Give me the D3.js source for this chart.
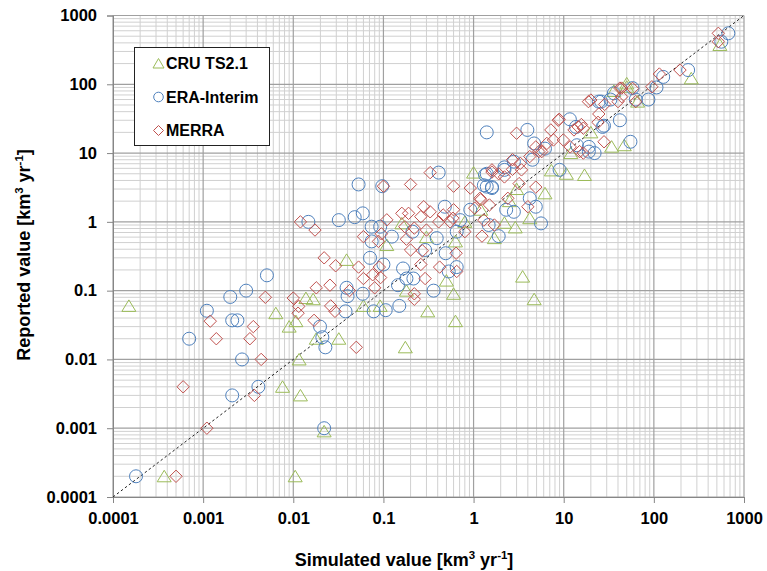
<!DOCTYPE html>
<html>
<head>
<meta charset="utf-8">
<script src="https://cdn.jsdelivr.net/npm/d3@7"></script>
<style>
  body { margin: 0; background: #fff; }
  text { font-family: "Liberation Sans", Arial, sans-serif; font-weight: bold; }
</style>
</head>
<body>
<svg width="767" height="571"></svg>
<script>
// [simulated, reported] in km3/yr
const cruPoints = [
  [0.00015, 0.06], [0.00037, 0.0002], [0.0105, 0.0002], [0.022, 0.0009], [0.0076, 0.004],
  [0.012, 0.003], [0.0116, 0.01], [0.018, 0.02], [0.032, 0.02], [0.0064, 0.047],
  [0.009, 0.03], [0.0107, 0.036], [0.0138, 0.078], [0.0166, 0.075], [0.039, 0.28],
  [0.175, 0.015], [0.31, 0.05], [0.63, 0.036], [0.6, 0.09], [0.18, 0.1],
  [0.06, 0.06], [0.092, 0.06], [0.5, 0.14], [0.109, 0.46], [0.16, 0.95], [0.63, 0.52],
  [1.7, 0.58], [1.0, 5.2], [3.5, 0.16], [4.7, 0.075], [2.9, 0.83], [4.2, 1.13],
  [2.2, 0.97], [6.2, 2.6], [10.7, 5], [17, 4.8], [7.3, 5.6], [34, 12.4], [47, 13],
  [50, 92], [66, 56], [50, 103], [36, 80], [260, 122], [540, 373],
  [0.3, 0.6], [0.8, 1.0], [1.2, 1.5], [2.5, 2.0], [3, 3], [12, 10], [20, 20]
];
const eraPoints = [
  [0.00018, 0.0002], [0.022, 0.001], [0.0021, 0.003], [0.0041, 0.004], [0.0027, 0.01],
  [0.0007, 0.02], [0.0198, 0.03], [0.021, 0.021], [0.0227, 0.015], [0.0051, 0.167],
  [0.003, 0.1], [0.002, 0.081], [0.0011, 0.051], [0.0021, 0.037], [0.0024, 0.037],
  [0.0147, 1.0], [0.032, 1.06], [0.053, 3.5], [0.097, 3.3], [0.41, 5.2], [1.34, 4.8],
  [1.4, 3.25], [0.048, 1.17], [0.059, 1.33], [0.074, 0.85], [0.092, 0.85], [0.074, 0.52],
  [0.124, 0.61], [0.21, 0.72], [0.39, 0.58], [0.48, 1.66], [0.71, 1.06], [0.65, 0.72],
  [0.92, 1.5], [1.47, 0.9], [0.071, 0.3], [0.1, 0.24], [0.165, 0.21], [0.18, 0.15],
  [0.215, 0.15], [0.145, 0.12], [0.29, 0.39], [0.49, 0.35], [0.65, 0.22], [0.53, 0.19],
  [0.36, 0.1], [0.039, 0.11], [0.04, 0.083], [0.059, 0.09], [0.038, 0.05], [0.078, 0.05],
  [0.106, 0.052], [0.15, 0.06], [1.4, 20], [3.95, 21.7], [11.7, 31], [24.5, 56], [33, 60],
  [63, 60], [27, 24], [42, 30], [55, 14.6], [19, 12.3], [22, 10], [9, 5.7], [13.7, 24],
  [6.2, 11.6], [14, 13], [4.7, 13.8], [4.5, 8], [2.8, 7.5], [2.2, 6.2], [1.4, 5],
  [1.3, 3.4], [1.6, 3.2], [4.2, 2.2], [2.8, 1.4], [2.3, 1.5], [4.9, 1.66], [5.6, 0.95],
  [1.9, 0.62], [28, 25], [670, 551], [560, 416], [240, 161], [127, 128], [107, 90],
  [87, 60], [58, 88], [1.6, 3.1], [2.2, 5.7], [26, 56], [36, 74], [19, 10.5]
];
const merraPoints = [
  [0.0005, 0.0002], [0.0011, 0.001], [0.0037, 0.003], [0.0006, 0.004], [0.0044, 0.01],
  [0.0014, 0.02], [0.0033, 0.02], [0.0036, 0.03], [0.0012, 0.036], [0.0049, 0.08],
  [0.012, 1.0], [0.0174, 0.76], [0.022, 0.3], [0.0295, 0.23], [0.018, 0.11], [0.0255, 0.12],
  [0.01, 0.078], [0.0115, 0.059], [0.0113, 0.047], [0.017, 0.037], [0.05, 0.015],
  [0.1, 3.3], [0.2, 3.5], [0.33, 5.2], [1.6, 5.7], [0.6, 3.3], [1.18, 2.2], [0.109, 1.07],
  [0.095, 0.67], [0.06, 0.61], [0.088, 0.52], [0.173, 0.85], [0.19, 1.33], [0.16, 1.33],
  [0.28, 1.66], [0.26, 1.19], [0.33, 1.4], [0.3, 0.76], [0.22, 0.81], [0.18, 0.56],
  [0.41, 1.0], [0.46, 1.26], [0.55, 1.0], [0.6, 1.5], [0.59, 1.13], [0.8, 0.72],
  [1.03, 1.58], [1.3, 1.06], [1.24, 0.62], [1.7, 0.9], [0.053, 0.22], [0.09, 0.22],
  [0.06, 0.15], [0.076, 0.17], [0.093, 0.155], [0.2, 0.39], [0.27, 0.38], [0.26, 0.24],
  [0.29, 0.15], [0.42, 0.22], [0.64, 0.35], [0.65, 0.19], [0.22, 0.09], [0.22, 0.075],
  [0.042, 0.1], [0.026, 0.06], [0.029, 0.05], [0.08, 0.11], [3.0, 19.4], [8.9, 31],
  [18.8, 56], [28.5, 51], [44, 88], [58, 87], [40, 56], [24.5, 37], [28, 14.6], [15, 10.5],
  [7.2, 21.7], [14.5, 24], [13, 21.7], [7.7, 15.5], [9.9, 15.5], [5.7, 10.5], [11.8, 12.3],
  [4.9, 12.3], [4.2, 8.9], [2.7, 8], [3.3, 7.1], [2.7, 5.8], [1.6, 5.3], [2.2, 4.5],
  [3.2, 3.6], [4.9, 3.2], [4.0, 1.66], [2.4, 2.2], [1.2, 2.1], [1.5, 1.76], [519, 551],
  [519, 416], [195, 161], [115, 141], [95, 92], [63, 56], [42, 88], [0.92, 3.1], [1.9, 5],
  [3.4, 5.7], [5.3, 10.5], [6.5, 13.8], [8.7, 30], [15.7, 26], [16.5, 23], [24, 28],
  [16.5, 10], [44, 66], [20, 59]
];
const tickValues = [0.0001, 0.001, 0.01, 0.1, 1, 10, 100, 1000];
const tickLabels = ["0.0001", "0.001", "0.01", "0.1", "1", "10", "100", "1000"];
const seriesNames = ["CRU TS2.1", "ERA-Interim", "MERRA"];

const svg = d3.select("svg");
const plotLeft = 113, plotRight = 744, plotTop = 15.5, plotBottom = 497;

const x = d3.scaleLog().domain([1e-4, 1e3]).range([plotLeft, plotRight]);
const y = d3.scaleLog().domain([1e-4, 1e3]).range([plotBottom, plotTop]);

// minor gridlines 2..9 in every decade
let minor = [];
tickValues.slice(0, -1).forEach(v => {
    for (let k = 2; k <= 9; k++) minor.push(v * k);
});

const grid = svg.append("g");
grid.selectAll(".vminor").data(minor).enter().append("line")
    .attr("x1", d => x(d)).attr("x2", d => x(d)).attr("y1", plotTop).attr("y2", plotBottom)
    .attr("stroke", "#d0d0d0").attr("stroke-width", 1);
grid.selectAll(".hminor").data(minor).enter().append("line")
    .attr("y1", d => y(d)).attr("y2", d => y(d)).attr("x1", plotLeft).attr("x2", plotRight)
    .attr("stroke", "#d0d0d0").attr("stroke-width", 1);
grid.selectAll(".vmajor").data(tickValues).enter().append("line")
    .attr("x1", d => x(d)).attr("x2", d => x(d)).attr("y1", plotTop).attr("y2", plotBottom)
    .attr("stroke", "#a0a0a0").attr("stroke-width", 1.2);
grid.selectAll(".hmajor").data(tickValues).enter().append("line")
    .attr("y1", d => y(d)).attr("y2", d => y(d)).attr("x1", plotLeft).attr("x2", plotRight)
    .attr("stroke", "#a0a0a0").attr("stroke-width", 1.2);

// axes
const xAxis = d3.axisBottom(x).tickValues(tickValues)
    .tickFormat((d, i) => tickLabels[i]).tickSize(6).tickPadding(9);
const yAxis = d3.axisLeft(y).tickValues(tickValues)
    .tickFormat((d, i) => tickLabels[i]).tickSize(6).tickPadding(10);

const gx = svg.append("g").attr("transform", `translate(0,${plotBottom})`).call(xAxis);
const gy = svg.append("g").attr("transform", `translate(${plotLeft},0)`).call(yAxis);
[gx, gy].forEach(g => {
    g.select(".domain").attr("stroke", "#868686");
    g.selectAll(".tick line").attr("stroke", "#868686");
    g.selectAll(".tick text").attr("font-size", 16.5).attr("fill", "#000")
        .attr("font-family", "Liberation Sans, Arial, sans-serif").attr("font-weight", "bold");
});

// 1:1 line
svg.append("line")
    .attr("x1", x(1e-4)).attr("y1", y(1e-4)).attr("x2", x(1e3)).attr("y2", y(1e3))
    .attr("stroke", "#222").attr("stroke-width", 1).attr("stroke-dasharray", "2.5,2.5");

// markers
const triPath = "M0,-6L7,5.5L-7,5.5Z";
const diaPath = "M0,-6.2L6.2,0L0,6.2L-6.2,0Z";
const colors = ["#9bbb59", "#4f81bd", "#c0504d"];

svg.append("g").selectAll("path").data(cruPoints).enter().append("path")
    .attr("d", triPath)
    .attr("transform", d => `translate(${x(d[0])},${y(d[1])})`)
    .attr("fill", "none").attr("stroke", colors[0]).attr("stroke-width", 1);

svg.append("g").selectAll("circle").data(eraPoints).enter().append("circle")
    .attr("cx", d => x(d[0])).attr("cy", d => y(d[1])).attr("r", 6.5)
    .attr("fill", "none").attr("stroke", colors[1]).attr("stroke-width", 1);

svg.append("g").selectAll("path").data(merraPoints).enter().append("path")
    .attr("d", diaPath)
    .attr("transform", d => `translate(${x(d[0])},${y(d[1])})`)
    .attr("fill", "none").attr("stroke", colors[2]).attr("stroke-width", 1);

// legend
const legend = svg.append("g").attr("transform", "translate(134.5,47.5)");
legend.append("rect").attr("width", 135).attr("height", 98)
    .attr("fill", "#fff").attr("stroke", "#222").attr("stroke-width", 1);
seriesNames.forEach((name, i) => {
    const cy = 16 + i * 33.5;
    if (i === 0) {
        legend.append("path").attr("d", "M0,-5L5.5,4.5L-5.5,4.5Z")
            .attr("transform", `translate(24,${cy})`)
            .attr("fill", "none").attr("stroke", colors[0]);
    } else if (i === 1) {
        legend.append("circle").attr("cx", 24).attr("cy", cy).attr("r", 4.8)
            .attr("fill", "none").attr("stroke", colors[1]);
    } else {
        legend.append("path").attr("d", "M0,-5L5,0L0,5L-5,0Z")
            .attr("transform", `translate(24,${cy})`)
            .attr("fill", "none").attr("stroke", colors[2]);
    }
    legend.append("text").attr("x", 31.5).attr("y", cy + 5.8)
        .attr("font-size", 16).text(name);
});

// axis titles
const xt = svg.append("text").attr("x", 404).attr("y", 566)
    .attr("text-anchor", "middle").attr("font-size", 18);
xt.append("tspan").text("Simulated value [km");
xt.append("tspan").attr("font-size", 11.5).attr("dy", -7).text("3");
xt.append("tspan").attr("dy", 7).text(" yr");
xt.append("tspan").attr("font-size", 11.5).attr("dy", -7).text("-1");
xt.append("tspan").attr("dy", 7).text("]");

const yt = svg.append("text").attr("transform", "translate(30,255) rotate(-90)")
    .attr("text-anchor", "middle").attr("font-size", 18);
yt.append("tspan").text("Reported value [km");
yt.append("tspan").attr("font-size", 11.5).attr("dy", -7).text("3");
yt.append("tspan").attr("dy", 7).text(" yr");
yt.append("tspan").attr("font-size", 11.5).attr("dy", -7).text("-1");
yt.append("tspan").attr("dy", 7).text("]");
</script>
</body>
</html>
